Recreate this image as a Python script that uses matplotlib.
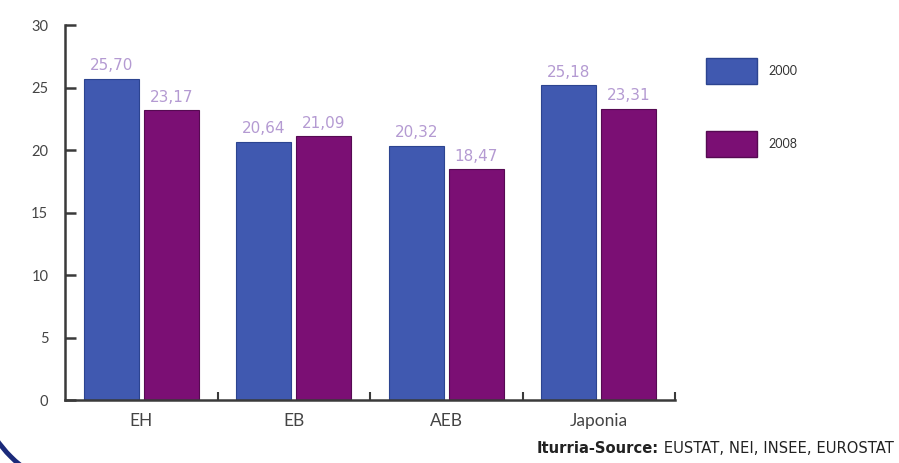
import numpy as np
import matplotlib
matplotlib.use("Agg")
from matplotlib import pyplot as plt
from matplotlib.patches import Arc, Patch

# data
categories = ['EH', 'EB', 'AEB', 'Japonia']
years = ['2000', '2008']
values_2000 = [25.70, 20.64, 20.32, 25.18]
values_2008 = [23.17, 21.09, 18.47, 23.31]

plt.rcParams['font.family'] = ['Lato', 'DejaVu Sans']

blue = '#4059b0'
purple = '#7b0f74'
label_col = '#b49ad2'
axis_col = '#3a3a3a'

fig = plt.figure(figsize=(8.99, 4.63), dpi=100)
ax = fig.add_axes([0.0723, 0.136, 0.6787, 0.81])

x = np.arange(len(categories))
w = 0.36
off = 0.197
b1 = ax.bar(x - off, values_2000, w, color=blue, edgecolor='#2c4490', linewidth=0.8)
b2 = ax.bar(x + off, values_2008, w, color=purple, edgecolor='#560a52', linewidth=0.8)

for bars, vals in ((b1, values_2000), (b2, values_2008)):
    for r, v in zip(bars, vals):
        ax.text(r.get_x() + r.get_width() / 2, v + 0.45, f'{v:.2f}'.replace('.', ','),
                ha='center', va='bottom', color=label_col, fontsize=11,
                family=['DejaVu Sans'])

ax.set_xlim(-0.5, 3.5)
ax.set_ylim(0, 30)
ax.set_yticks(range(0, 31, 5))
ax.set_xticks(x)
ax.set_xticklabels(categories, fontsize=12.5, color='#444444')
ax.set_xticks(np.arange(0.5, 4.0, 1.0), minor=True)

for s in ['top', 'right']:
    ax.spines[s].set_visible(False)
for s in ['left', 'bottom']:
    ax.spines[s].set_color(axis_col)
    ax.spines[s].set_linewidth(1.8)

ax.tick_params(axis='y', direction='in', length=8, width=1.8, color=axis_col,
               labelsize=10.5, labelcolor='#444444', pad=12)
ax.tick_params(axis='x', which='major', length=0, pad=9)
ax.tick_params(axis='x', which='minor', direction='in', length=6, width=1.5, color=axis_col)

handles = [Patch(facecolor=blue, edgecolor='#2c4490'), Patch(facecolor=purple, edgecolor='#560a52')]
leg = fig.legend(handles, years, loc='upper left', bbox_to_anchor=(0.785, 0.875), frameon=False,
                 fontsize=9, handlelength=4.1, handleheight=2.85, labelspacing=3.75,
                 handletextpad=0.9, borderaxespad=0, borderpad=0)
for t in leg.get_texts():
    t.set_color('#333333')

# source line, shrunk a little so it stays inside the figure
t1 = fig.text(0.597, 0.022, 'Iturria-Source:', fontsize=10.6, fontweight='bold',
              color='#222222', family=['DejaVu Sans'])
ax.annotate(' EUSTAT, NEI, INSEE, EUROSTAT', xy=(1, 0), xycoords=t1, va='bottom',
            fontsize=10.6, color='#222222', family=['DejaVu Sans'], annotation_clip=False)

# decorative corner arc
arc = Arc((98.5 / 899, 1 - 369 / 463), 2 * 124 / 899, 2 * 124 / 463, theta1=180, theta2=270,
          transform=fig.transFigure, color='#1b2a7a', linewidth=3.5)
fig.patches.append(arc)

fig.savefig('out.png', dpi=100)
